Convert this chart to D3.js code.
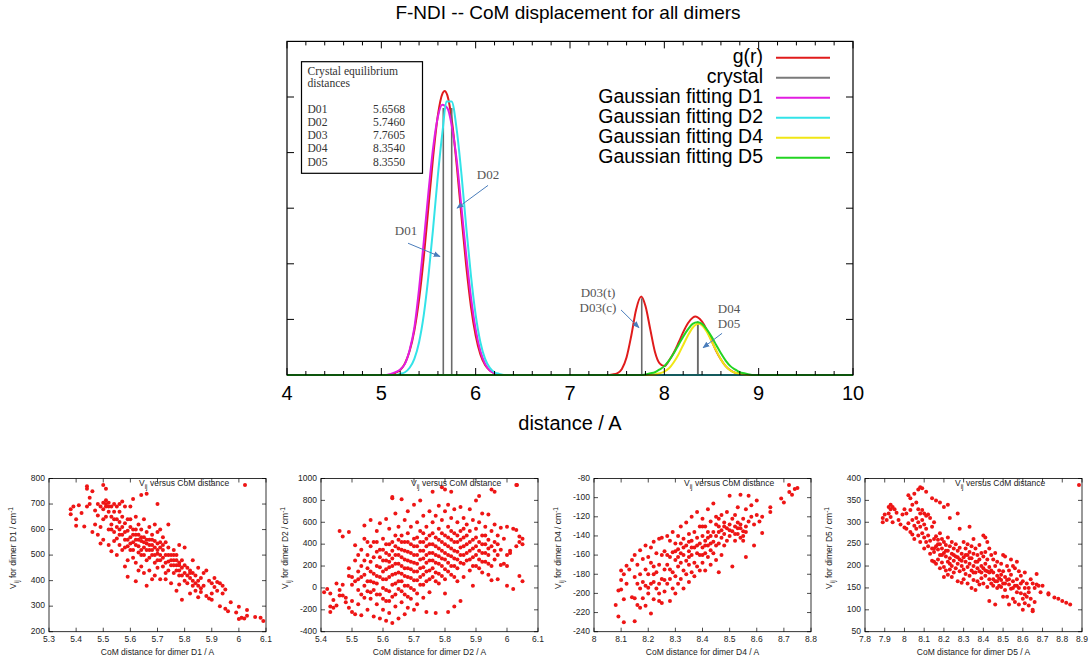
<!DOCTYPE html>
<html><head><meta charset="utf-8">
<script src="https://cdn.jsdelivr.net/npm/d3@7"></script>
<style>
body{margin:0;background:#fff}
svg{display:block}
text{font-family:"Liberation Sans",Arial,sans-serif}
</style>
</head><body>
<script>
// main plot: g(r) and gaussian fits
var grData = [[4,0],[5.10,0],[5.15,0.04],[5.20,0.09],[5.25,0.21],[5.30,0.43],[5.35,0.80],[5.40,1.36],[5.45,2.12],[5.50,3.03],[5.55,3.94],[5.60,4.68],[5.65,5.07],[5.67,5.11],[5.70,5.03],[5.75,4.55],[5.80,3.76],[5.85,2.84],[5.90,1.96],[5.95,1.23],[6.00,0.71],[6.05,0.37],[6.10,0.18],[6.15,0.08],[6.20,0.03],[6.25,0],
  [7.40,0],[7.45,0.01],[7.50,0.03],[7.55,0.11],[7.60,0.32],[7.65,0.71],[7.70,1.17],[7.755,1.41],[7.80,1.24],[7.85,0.83],[7.90,0.42],[7.95,0.21],[8.00,0.16],[8.05,0.26],[8.10,0.40],[8.15,0.58],[8.20,0.77],[8.25,0.93],[8.30,1.03],[8.33,1.05],[8.35,1.04],[8.40,0.96],[8.45,0.81],[8.50,0.62],[8.55,0.43],[8.60,0.28],[8.65,0.16],[8.70,0.085],[8.75,0.04],[8.80,0.018],[8.85,0.007],[8.90,0],[10,0]];
var fitD1 = [[4,0],[5.05,0],[5.10,0.02],[5.15,0.05],[5.20,0.10],[5.25,0.20],[5.30,0.45],[5.35,0.85],[5.40,1.55],[5.45,2.40],[5.50,3.30],[5.55,4.10],[5.60,4.65],[5.645,4.86],[5.70,4.80],[5.75,4.45],[5.80,3.85],[5.85,3.00],[5.90,2.15],[5.95,1.40],[6.00,0.82],[6.05,0.43],[6.10,0.20],[6.15,0.08],[6.20,0.03],[6.25,0],[10,0]];
var fitD2 = [[4,0],[5.15,0],[5.20,0.02],[5.25,0.05],[5.30,0.13],[5.35,0.29],[5.40,0.59],[5.45,1.08],[5.50,1.79],[5.55,2.66],[5.60,3.60],[5.65,4.40],[5.69,4.92],[5.745,4.92],[5.80,4.40],[5.85,3.60],[5.90,2.66],[5.95,1.79],[6.00,1.08],[6.05,0.59],[6.10,0.29],[6.15,0.13],[6.20,0.05],[6.25,0.02],[6.30,0],[10,0]];
var fitD4 = [[4,0],[7.85,0],[7.90,0.01],[7.95,0.03],[8.00,0.06],[8.05,0.12],[8.10,0.23],[8.15,0.37],[8.20,0.54],[8.25,0.71],[8.30,0.85],[8.36,0.92],[8.40,0.89],[8.45,0.78],[8.50,0.61],[8.55,0.44],[8.60,0.28],[8.65,0.16],[8.70,0.08],[8.75,0.04],[8.80,0.02],[8.85,0.01],[8.90,0],[10,0]];
var fitD5 = [[4,0],[7.75,0],[7.80,0.01],[7.85,0.03],[7.90,0.05],[7.95,0.10],[8.00,0.16],[8.05,0.26],[8.10,0.39],[8.15,0.54],[8.20,0.69],[8.25,0.82],[8.30,0.92],[8.35,0.95],[8.40,0.92],[8.45,0.82],[8.50,0.69],[8.55,0.54],[8.60,0.39],[8.65,0.26],[8.70,0.16],[8.75,0.10],[8.80,0.05],[8.85,0.03],[8.90,0.01],[8.95,0],[10,0]];

var dimerNames = ["D01","D02","D03","D04","D05"];
var crystalX = [5.6568, 5.7460, 7.7605, 8.3540, 8.3550];
var crystalH = [4.8, 4.8, 1.38, 0.96, 0.96];

var legendNames = ["g(r)","crystal","Gaussian fitting D1","Gaussian fitting D2","Gaussian fitting D4","Gaussian fitting D5"];
var legendColors = ["#e01b1b","#7a7a7a","#e11ee1","#33e3e8","#f0e615","#22d422"];
var mainXTicks = [4,5,6,7,8,9,10];

// scatter data: CoM distance vs Vij
var d1 = [[5.38,680],[5.38,660],[5.39,690],[5.40,640],[5.40,615],[5.41,695],[5.42,665],[5.43,612],[5.44,770],[5.44,760],[5.44,690],[5.45,725],[5.45,700],
[5.46,750],[5.46,590],[5.47,675],[5.47,620],[5.48,700],[5.48,655],[5.48,580],[5.49,690],[5.49,610],[5.49,545],[5.50,775],[5.50,705],[5.50,640],[5.50,560],
[5.51,760],[5.51,715],[5.51,700],[5.51,690],[5.52,705],[5.52,670],[5.52,600],[5.52,540],[5.53,690],[5.53,650],[5.53,620],[5.53,515],[5.54,700],[5.54,640],[5.54,590],[5.54,555],[5.55,690],[5.55,610],[5.55,565],[5.55,500],
[5.56,670],[5.56,630],[5.56,600],[5.56,540],[5.57,710],[5.57,650],[5.57,580],[5.57,520],[5.58,690],[5.58,625],[5.58,560],[5.58,455],[5.59,640],[5.59,595],[5.59,535],[5.59,480],[5.59,415],[5.60,690],[5.60,610],[5.60,570],[5.60,520],
[5.61,720],[5.61,600],[5.61,550],[5.61,490],[5.62,650],[5.62,580],[5.62,540],[5.62,470],[5.62,398],[5.63,620],[5.63,560],[5.63,510],[5.63,440],[5.64,735],[5.64,600],[5.64,555],[5.64,500],[5.64,455],[5.65,640],[5.65,570],[5.65,530],[5.65,430],
[5.66,740],[5.66,590],[5.66,545],[5.66,480],[5.66,380],[5.67,610],[5.67,560],[5.67,520],[5.67,440],[5.68,580],[5.68,540],[5.68,500],[5.68,405],[5.69,620],[5.69,555],[5.69,470],[5.69,420],[5.70,700],[5.70,590],[5.70,545],[5.70,505],[5.70,450],
[5.71,600],[5.71,530],[5.71,480],[5.71,405],[5.72,570],[5.72,520],[5.72,455],[5.73,550],[5.73,500],[5.73,430],[5.73,405],[5.74,620],[5.74,530],[5.74,475],[5.74,440],[5.75,500],[5.75,460],[5.75,390],
[5.76,520],[5.76,480],[5.76,430],[5.77,500],[5.77,460],[5.77,360],[5.78,540],[5.78,470],[5.78,440],[5.78,385],[5.79,480],[5.79,420],[5.79,325],[5.80,530],[5.80,460],[5.80,400],
[5.81,450],[5.81,390],[5.82,440],[5.82,410],[5.82,350],[5.83,480],[5.83,430],[5.83,380],[5.84,420],[5.84,360],[5.85,450],[5.85,400],[5.85,335],
[5.86,410],[5.86,355],[5.87,430],[5.87,380],[5.88,440],[5.88,340],[5.89,400],[5.89,330],[5.90,390],[5.90,350],[5.90,325],
[5.91,410],[5.91,375],[5.92,395],[5.92,360],[5.93,390],[5.93,300],[5.94,380],[5.94,350],[5.95,365],[5.95,290],[5.96,280],
[5.97,315],[5.99,275],[6.00,298],[6.00,250],[6.01,255],[6.02,252],[6.03,262],[6.03,285],[6.06,258],[6.08,255],[6.09,242]];
var d1More = [[5.50,680],[5.51,650],[5.52,690],[5.53,600],[5.54,670],[5.55,640],[5.56,580],[5.56,700],[5.57,610],[5.58,590],[5.58,530],[5.59,560],[5.60,640],[5.60,545],[5.61,580],[5.61,520],[5.62,600],[5.62,560],[5.63,580],[5.63,535],[5.64,520],[5.64,570],[5.65,550],[5.65,500],[5.66,560],[5.66,520],[5.67,540],[5.67,490],[5.68,560],[5.68,520],[5.69,530],[5.69,500],[5.70,520],[5.70,480],[5.71,550],[5.71,500],[5.72,540],[5.72,490],[5.73,470],[5.74,500],[5.75,480],[5.76,460],[5.76,500],[5.77,480],[5.77,440],[5.78,460],[5.78,420],[5.79,450],[5.80,430],[5.81,420],[5.82,430],[5.83,400],[5.84,390],[5.85,380],[5.86,370]];

var d2 = [[5.41,-40],[5.42,-10],[5.43,-50],[5.43,-170],[5.43,-220],[5.44,-180],[5.44,-110],[5.45,40],[5.45,-160],[5.46,520],[5.46,-20],[5.46,-70],
[5.47,470],[5.47,30],[5.47,-70],[5.48,-90],[5.48,-130],[5.49,510],[5.49,180],[5.49,110],[5.49,-180],[5.50,100],[5.50,30],[5.50,-220],[5.50,-120],
[5.51,390],[5.51,250],[5.51,60],[5.51,-240],[5.52,150],[5.52,80],[5.52,-20],[5.52,-150],[5.53,350],[5.53,200],[5.53,-60],[5.53,-250],[5.54,570],[5.54,450],[5.54,120],[5.54,20],[5.54,-90],[5.55,300],[5.55,180],[5.55,-30],[5.55,-200],
[5.56,620],[5.56,380],[5.56,240],[5.56,60],[5.56,-100],[5.57,420],[5.57,130],[5.57,-20],[5.57,-260],[5.58,520],[5.58,330],[5.58,200],[5.58,40],[5.58,-150],[5.59,590],[5.59,280],[5.59,100],[5.59,-60],[5.59,-280],[5.60,450],[5.60,350],[5.60,150],[5.60,0],[5.60,-200],
[5.61,630],[5.61,400],[5.61,250],[5.61,80],[5.61,-120],[5.61,-300],[5.62,540],[5.62,300],[5.62,190],[5.62,-30],[5.62,-230],[5.63,820],[5.63,830],[5.63,420],[5.63,270],[5.63,120],[5.63,-80],[5.63,-320],[5.64,680],[5.64,380],[5.64,220],[5.64,40],[5.64,-170],[5.65,560],[5.65,440],[5.65,300],[5.65,140],[5.65,-10],[5.65,-280],
[5.66,810],[5.66,480],[5.66,350],[5.66,200],[5.66,60],[5.66,-130],[5.67,620],[5.67,420],[5.67,260],[5.67,110],[5.67,-60],[5.67,-240],[5.68,700],[5.68,500],[5.68,330],[5.68,180],[5.68,20],[5.68,-180],[5.69,560],[5.69,400],[5.69,240],[5.69,90],[5.69,-100],[5.70,760],[5.70,450],[5.70,300],[5.70,150],[5.70,-20],[5.70,-200],
[5.71,600],[5.71,380],[5.71,220],[5.71,70],[5.71,-150],[5.72,800],[5.72,520],[5.72,340],[5.72,180],[5.72,30],[5.73,660],[5.73,420],[5.73,270],[5.73,120],[5.73,-90],[5.74,560],[5.74,380],[5.74,230],[5.74,60],[5.74,-220],[5.75,700],[5.75,480],[5.75,320],[5.75,160],[5.75,-40],
[5.76,880],[5.76,600],[5.76,400],[5.76,250],[5.76,100],[5.77,660],[5.77,460],[5.77,300],[5.77,140],[5.77,-230],[5.78,750],[5.78,540],[5.78,360],[5.78,220],[5.78,40],[5.79,920],[5.79,620],[5.79,420],[5.79,270],[5.79,110],[5.80,900],[5.80,700],[5.80,480],[5.80,320],[5.80,170],[5.80,-50],
[5.81,760],[5.81,560],[5.81,380],[5.81,230],[5.81,-220],[5.82,880],[5.82,640],[5.82,440],[5.82,290],[5.82,120],[5.83,720],[5.83,500],[5.83,340],[5.83,200],[5.83,-170],[5.84,600],[5.84,420],[5.84,260],[5.84,60],[5.85,740],[5.85,520],[5.85,370],[5.85,230],[5.85,-120],
[5.86,640],[5.86,460],[5.86,300],[5.86,100],[5.87,580],[5.87,400],[5.87,250],[5.88,720],[5.88,520],[5.88,340],[5.88,160],[5.89,620],[5.89,440],[5.89,280],[5.89,20],[5.90,800],[5.90,540],[5.90,380],[5.90,200],
[5.91,840],[5.91,600],[5.91,420],[5.91,260],[5.92,680],[5.92,480],[5.92,320],[5.92,140],[5.93,560],[5.93,400],[5.93,240],[5.94,670],[5.94,440],[5.94,300],[5.94,120],[5.95,900],[5.95,520],[5.95,380],[5.95,200],[5.95,70],
[5.96,880],[5.96,580],[5.96,420],[5.96,260],[5.97,480],[5.97,300],[5.97,80],[5.98,550],[5.98,350],[5.98,210],[5.99,450],[5.99,220],[6.00,560],[6.00,300],[6.00,200],[6.00,20],
[6.01,340],[6.01,320],[6.02,-10],[6.02,540],[6.03,940],[6.03,530],[6.03,380],[6.04,470],[6.04,420],[6.04,110],[6.05,450],[6.05,400],[6.05,60]];
var d2More = [[5.52,300],[5.53,100],[5.54,250],[5.55,60],[5.55,420],[5.56,150],[5.56,-40],[5.57,280],[5.57,50],[5.58,110],[5.58,-60],[5.58,420],[5.59,190],[5.59,350],[5.60,80],[5.60,250],[5.60,-100],[5.61,170],[5.61,-20],[5.61,320],[5.62,100],[5.62,240],[5.62,400],[5.62,-120],[5.63,30],[5.63,200],[5.63,340],[5.64,130],[5.64,300],[5.64,-60],[5.64,480],[5.65,220],[5.65,60],[5.65,360],[5.66,130],[5.66,280],[5.66,-30],[5.66,420],[5.67,180],[5.67,340],[5.67,20],[5.68,250],[5.68,100],[5.68,420],[5.68,-80],[5.69,170],[5.69,320],[5.69,0],[5.70,230],[5.70,380],[5.70,70],[5.71,300],[5.71,150],[5.71,460],[5.71,-50],[5.72,260],[5.72,100],[5.72,420],[5.73,340],[5.73,190],[5.73,30],[5.73,500],[5.74,300],[5.74,150],[5.74,450],[5.75,250],[5.75,400],[5.75,80],[5.76,320],[5.76,180],[5.76,500],[5.77,380],[5.77,230],[5.77,60],[5.78,290],[5.78,440],[5.78,130],[5.79,340],[5.79,200],[5.79,500],[5.80,260],[5.80,400],[5.80,80],[5.81,300],[5.81,460],[5.81,150],[5.82,360],[5.82,200],[5.82,520],[5.83,270],[5.83,420],[5.83,100],[5.84,330],[5.84,480],[5.84,180],[5.85,300],[5.85,440],[5.86,380],[5.86,220],[5.86,540],[5.87,320],[5.87,480],[5.88,260],[5.88,420],[5.89,360],[5.89,200],[5.90,300],[5.90,460],[5.91,340],[5.91,180],[5.92,400],[5.92,240],[5.93,320],[5.93,480],[5.94,360],[5.94,220],[5.96,340],[5.97,400]];

var d4 = [[8.08,-212],[8.09,-224],[8.09,-197],[8.10,-196],[8.10,-186],[8.10,-176],[8.11,-230],[8.11,-206],[8.11,-180],[8.12,-171],[8.12,-190],[8.13,-175],[8.14,-204],[8.14,-165],[8.15,-229],[8.15,-205],[8.15,-183],[8.15,-160],
[8.16,-212],[8.16,-190],[8.16,-170],[8.17,-215],[8.17,-195],[8.17,-180],[8.17,-155],[8.18,-205],[8.18,-188],[8.18,-164],[8.19,-213],[8.19,-192],[8.19,-175],[8.19,-150],[8.20,-194],[8.20,-180],[8.20,-162],
[8.21,-221],[8.21,-190],[8.21,-168],[8.21,-152],[8.22,-206],[8.22,-188],[8.22,-172],[8.22,-146],[8.23,-195],[8.23,-178],[8.23,-158],[8.24,-208],[8.24,-190],[8.24,-170],[8.24,-143],[8.25,-210],[8.25,-185],[8.25,-160],[8.25,-142],
[8.26,-198],[8.26,-175],[8.26,-156],[8.27,-190],[8.27,-170],[8.27,-140],[8.28,-208],[8.28,-185],[8.28,-162],[8.28,-145],[8.29,-195],[8.29,-178],[8.29,-157],[8.29,-136],[8.30,-200],[8.30,-182],[8.30,-165],[8.30,-148],
[8.31,-190],[8.31,-172],[8.31,-154],[8.31,-140],[8.32,-185],[8.32,-168],[8.32,-158],[8.32,-130],[8.33,-195],[8.33,-176],[8.33,-160],[8.33,-143],[8.34,-180],[8.34,-166],[8.34,-150],[8.34,-126],[8.35,-188],[8.35,-170],[8.35,-156],[8.35,-138],
[8.36,-178],[8.36,-160],[8.36,-145],[8.36,-120],[8.37,-182],[8.37,-168],[8.37,-152],[8.37,-136],[8.38,-172],[8.38,-158],[8.38,-142],[8.38,-115],[8.39,-176],[8.39,-160],[8.39,-148],[8.39,-130],[8.40,-168],[8.40,-152],[8.40,-140],[8.40,-122],
[8.41,-176],[8.41,-158],[8.41,-145],[8.41,-130],[8.42,-162],[8.42,-150],[8.42,-136],[8.42,-112],[8.43,-170],[8.43,-155],[8.43,-140],[8.43,-125],[8.44,-158],[8.44,-146],[8.44,-106],[8.45,-165],[8.45,-150],[8.45,-128],[8.45,-120],
[8.46,-178],[8.46,-148],[8.46,-136],[8.46,-122],[8.47,-160],[8.47,-142],[8.47,-118],[8.48,-150],[8.48,-138],[8.48,-126],[8.49,-145],[8.49,-132],[8.49,-115],[8.50,-140],[8.50,-128],[8.50,-98],
[8.51,-172],[8.51,-135],[8.51,-122],[8.52,-145],[8.52,-130],[8.52,-118],[8.53,-138],[8.53,-126],[8.53,-110],[8.54,-142],[8.54,-132],[8.54,-97],[8.55,-145],[8.55,-135],[8.55,-122],
[8.56,-162],[8.56,-130],[8.56,-112],[8.57,-125],[8.57,-98],[8.58,-120],[8.58,-108],[8.59,-150],[8.59,-128],[8.60,-118],[8.60,-103],[8.61,-125],[8.62,-137],[8.62,-120],
[8.65,-110],[8.65,-115],[8.69,-101],[8.70,-105],[8.72,-94],[8.73,-97],[8.74,-91],[8.75,-90]];
var d4More = [[8.20,-200],[8.22,-180],[8.24,-200],[8.26,-186],[8.27,-160],[8.28,-175],[8.30,-156],[8.31,-162],[8.32,-148],[8.33,-152],[8.35,-162],[8.35,-146],[8.36,-152],[8.38,-150],[8.40,-160],[8.40,-130],[8.41,-150],[8.42,-142],[8.43,-148],[8.44,-136],[8.45,-140],[8.46,-130],[8.47,-134],[8.48,-130],[8.50,-134],[8.52,-138],[8.53,-132],[8.54,-128],[8.55,-140],[8.56,-136]];

var d5 = [[7.89,310],[7.89,300],[7.90,318],[7.91,305],[7.92,335],[7.92,320],[7.93,340],[7.93,330],[7.93,312],[7.94,335],[7.94,300],[7.95,330],[7.96,322],[7.97,305],
[7.98,295],[7.99,318],[8.00,330],[8.00,288],[8.01,320],[8.01,285],[8.02,362],[8.02,298],[8.03,355],[8.03,328],[8.03,278],[8.04,340],[8.04,305],[8.04,272],[8.05,365],[8.05,292],[8.05,262],
[8.06,345],[8.06,310],[8.06,285],[8.07,375],[8.07,330],[8.07,300],[8.07,270],[8.08,380],[8.08,320],[8.08,290],[8.08,255],[8.09,378],[8.09,328],[8.09,305],[8.09,275],[8.10,320],[8.10,295],[8.10,265],[8.10,240],
[8.11,370],[8.11,315],[8.11,285],[8.11,255],[8.12,318],[8.12,270],[8.12,245],[8.13,310],[8.13,258],[8.13,228],[8.14,355],[8.14,290],[8.14,240],[8.14,212],[8.15,300],[8.15,262],[8.15,232],[8.15,210],
[8.16,350],[8.16,268],[8.16,245],[8.16,205],[8.17,260],[8.17,238],[8.17,215],[8.18,345],[8.18,275],[8.18,250],[8.18,225],[8.18,195],[8.19,262],[8.19,240],[8.19,208],[8.20,335],[8.20,255],[8.20,230],[8.20,198],[8.20,175],
[8.21,248],[8.21,222],[8.21,190],[8.22,340],[8.22,265],[8.22,235],[8.22,210],[8.22,180],[8.23,310],[8.23,245],[8.23,218],[8.23,192],[8.24,255],[8.24,228],[8.24,200],[8.24,175],[8.25,240],[8.25,212],[8.25,185],
[8.26,250],[8.26,222],[8.26,195],[8.27,320],[8.27,235],[8.27,205],[8.27,165],[8.28,285],[8.28,242],[8.28,215],[8.28,188],[8.29,228],[8.29,200],[8.29,162],[8.30,255],[8.30,220],[8.30,192],[8.30,170],
[8.31,240],[8.31,210],[8.31,182],[8.32,250],[8.32,225],[8.32,198],[8.32,160],[8.33,290],[8.33,232],[8.33,205],[8.33,178],[8.34,245],[8.34,218],[8.34,190],[8.34,150],[8.35,262],[8.35,228],[8.35,200],[8.35,168],
[8.36,240],[8.36,210],[8.36,185],[8.36,145],[8.37,225],[8.37,195],[8.37,165],[8.38,248],[8.38,215],[8.38,188],[8.38,158],[8.39,230],[8.39,200],[8.39,172],[8.40,270],[8.40,222],[8.40,195],[8.40,160],
[8.41,265],[8.41,232],[8.41,205],[8.41,178],[8.42,255],[8.42,215],[8.42,188],[8.42,152],[8.43,240],[8.43,198],[8.43,170],[8.43,120],[8.44,225],[8.44,190],[8.44,160],[8.45,215],[8.45,185],[8.45,155],
[8.46,230],[8.46,200],[8.46,165],[8.46,112],[8.47,210],[8.47,178],[8.47,150],[8.48,190],[8.48,172],[8.48,155],[8.49,205],[8.49,180],[8.49,152],[8.50,225],[8.50,188],[8.50,160],[8.50,130],
[8.51,222],[8.51,175],[8.51,145],[8.52,200],[8.52,168],[8.52,130],[8.53,190],[8.53,158],[8.53,112],[8.54,215],[8.54,180],[8.54,148],[8.55,200],[8.55,165],[8.55,125],
[8.56,195],[8.56,155],[8.56,118],[8.57,210],[8.57,170],[8.57,140],[8.58,188],[8.58,150],[8.58,112],[8.59,178],[8.59,138],[8.60,165],[8.60,125],[8.60,100],
[8.61,185],[8.61,150],[8.61,115],[8.62,160],[8.62,130],[8.63,140],[8.63,110],[8.64,170],[8.64,125],[8.65,160],[8.65,100],[8.65,97],[8.66,150],[8.66,118],[8.67,182],[8.67,158],[8.68,155],[8.69,140],[8.70,155],
[8.73,138],[8.73,135],[8.76,128],[8.78,125],[8.80,120],[8.82,116],[8.84,112]];
var d5More = [[8.15,240],[8.17,250],[8.19,225],[8.21,235],[8.23,205],[8.25,225],[8.27,220],[8.29,212],[8.31,225],[8.33,218],[8.35,185],[8.37,210],[8.39,185],[8.41,190],[8.43,185],[8.45,170],[8.47,165],[8.49,168],[8.51,160],[8.53,170],[8.55,150],[8.57,155],[8.59,160],[8.61,135],[8.63,150]];

var p1XTicks = [5.3,5.4,5.5,5.6,5.7,5.8,5.9,6,6.1], p1YTicks = [200,300,400,500,600,700,800];
var p2XTicks = [5.4,5.5,5.6,5.7,5.8,5.9,6,6.1], p2YTicks = [-400,-200,0,200,400,600,800,1000];
var p3XTicks = [8,8.1,8.2,8.3,8.4,8.5,8.6,8.7,8.8], p3YTicks = [-240,-220,-200,-180,-160,-140,-120,-100,-80];
var p4XTicks = [7.8,7.9,8,8.1,8.2,8.3,8.4,8.5,8.6,8.7,8.8,8.9], p4YTicks = [50,100,150,200,250,300,350,400];
var panelDimers = ["D1","D2","D4","D5"];

var svg = d3.select("body").append("svg").attr("width", 1088).attr("height", 663);

// ---------- main plot ----------
var x = d3.scaleLinear().domain([4, 10]).range([287, 853]);
var y = d3.scaleLinear().domain([0, 6]).range([375, 41.4]);

svg.append("text").attr("x", 568).attr("y", 14).attr("text-anchor", "middle")
    .attr("dominant-baseline", "middle").style("font-size", "19px").text("F-NDI -- CoM displacement for all dimers");

var line = d3.line().x(function(d){ return x(d[0]); }).y(function(d){ return y(d[1]); }).curve(d3.curveMonotoneX);

svg.append("path").datum(grData).attr("d", line).attr("fill", "none").attr("stroke", legendColors[0]).attr("stroke-width", 2);

svg.selectAll(".crys").data(crystalX).enter().append("line").attr("class", "crys")
    .attr("x1", function(d){ return x(d); }).attr("x2", function(d){ return x(d); })
    .attr("y1", y(0)).attr("y2", function(d, i){ return y(crystalH[i]); })
    .attr("stroke", "#6a6a6a").attr("stroke-width", 1.6);

[fitD1, fitD2, fitD4, fitD5].forEach(function(f, i){
  svg.append("path").datum(f).attr("d", line).attr("fill", "none")
      .attr("stroke", legendColors[i + 2]).attr("stroke-width", 2);
});

// frame + ticks
svg.append("rect").attr("x", x(4)).attr("y", y(6)).attr("width", x(10) - x(4)).attr("height", y(0) - y(6))
    .attr("fill", "none").attr("stroke", "#000").attr("stroke-width", 1.2);
var tk = svg.append("g").attr("stroke", "#000").attr("stroke-width", 1);
d3.range(0, 31).forEach(function(i){
  var v = 4 + i * 0.2, len = (i % 5 == 0) ? 7 : 4;
  tk.append("line").attr("x1", x(v)).attr("x2", x(v)).attr("y1", y(0)).attr("y2", y(0) - len);
  tk.append("line").attr("x1", x(v)).attr("x2", x(v)).attr("y1", y(6)).attr("y2", y(6) + len);
});
[1,2,3,4,5].forEach(function(v){
  tk.append("line").attr("x1", x(4)).attr("x2", x(4) + 7).attr("y1", y(v)).attr("y2", y(v));
  tk.append("line").attr("x1", x(10)).attr("x2", x(10) - 7).attr("y1", y(v)).attr("y2", y(v));
});
svg.selectAll(".xl").data(mainXTicks).enter().append("text").attr("class", "xl")
    .attr("x", function(d){ return x(d); }).attr("y", 395).attr("text-anchor", "middle")
    .attr("dominant-baseline", "middle").style("font-size", "20px").text(function(d){ return d; });
svg.append("text").attr("x", 570).attr("y", 425).attr("text-anchor", "middle")
    .attr("dominant-baseline", "middle").style("font-size", "20px").text("distance / A");

// legend
legendNames.forEach(function(n, i){
  var ly = 57.7 + i * 20;
  svg.append("text").attr("x", 763).attr("y", ly).attr("text-anchor", "end")
      .attr("dominant-baseline", "middle").style("font-size", "19.5px").text(n);
  svg.append("line").attr("x1", 776).attr("x2", 830).attr("y1", ly).attr("y2", ly)
      .attr("stroke", legendColors[i]).attr("stroke-width", 2);
});

// inset table of crystal distances
var serif = '"Liberation Serif","DejaVu Serif",serif';
svg.append("rect").attr("x", 301.5).attr("y", 61.7).attr("width", 121).attr("height", 111.6)
    .attr("fill", "#fff").attr("stroke", "#000").attr("stroke-width", 1.2);
svg.append("text").attr("x", 307.5).attr("y", 72).attr("dominant-baseline", "middle")
    .style("font-family", serif).style("font-size", "11.6px").attr("fill", "#333").text("Crystal equilibrium");
svg.append("text").attr("x", 307.5).attr("y", 84.5).attr("dominant-baseline", "middle")
    .style("font-family", serif).style("font-size", "11.6px").attr("fill", "#333").text("distances");
dimerNames.forEach(function(n, i){
  var ty = 110.5 + i * 13.1;
  svg.append("text").attr("x", 307.5).attr("y", ty).attr("dominant-baseline", "middle")
      .style("font-family", serif).style("font-size", "11.6px").attr("fill", "#333").text(n);
  svg.append("text").attr("x", 405).attr("y", ty).attr("text-anchor", "end").attr("dominant-baseline", "middle")
      .style("font-family", serif).style("font-size", "11.6px").attr("fill", "#333").text(crystalX[i].toFixed(4));
});

// annotations with arrows
svg.append("defs").append("marker").attr("id", "ah").attr("viewBox", "0 0 10 10").attr("refX", 9).attr("refY", 5)
    .attr("markerWidth", 7).attr("markerHeight", 7).attr("orient", "auto")
    .append("path").attr("d", "M0,1 L10,5 L0,9 z").attr("fill", "#4a7dbb");
var notes = [
  {t: ["D01"], at: [5.262, 2.57], from: [5.283, 2.37], to: [5.622, 2.13]},
  {t: ["D02"], at: [6.131, 3.58], from: [6.131, 3.41], to: [5.802, 3.0]},
  {t: ["D03(t)", "D03(c)"], at: [7.297, 1.46], from: [7.541, 1.17], to: [7.732, 0.85]},
  {t: ["D04", "D05"], at: [8.686, 1.17], from: [8.612, 0.75], to: [8.41, 0.49]}
];
notes.forEach(function(nt){
  nt.t.forEach(function(s, k){
    svg.append("text").attr("x", x(nt.at[0])).attr("y", y(nt.at[1]) + k * 15.2).attr("text-anchor", "middle")
        .attr("dominant-baseline", "middle").style("font-family", serif).style("font-size", "13px")
        .attr("fill", "#555").text(s);
  });
  svg.append("line").attr("x1", x(nt.from[0])).attr("y1", y(nt.from[1])).attr("x2", x(nt.to[0])).attr("y2", y(nt.to[1]))
      .attr("stroke", "#4a7dbb").attr("stroke-width", 1).attr("marker-end", "url(#ah)");
});

// ---------- scatter panels ----------
var panels = [
  {pts: d1.concat(d1More), xt: p1XTicks, yt: p1YTicks, left: 49, dot: 17},
  {pts: d2.concat(d2More), xt: p2XTicks, yt: p2YTicks, left: 321, dot: 17},
  {pts: d4.concat(d4More), xt: p3XTicks, yt: p3YTicks, left: 594, dot: 16},
  {pts: d5.concat(d5More), xt: p4XTicks, yt: p4YTicks, left: 865, dot: 35}
];
var pW = 217, pTop = 478.5, pBot = 631.7;

panels.forEach(function(p, pi){
  var g = svg.append("g");
  var sx = d3.scaleLinear().domain(d3.extent(p.xt)).range([p.left, p.left + pW]);
  var sy = d3.scaleLinear().domain(d3.extent(p.yt)).range([pBot, pTop]);

  g.selectAll("circle").data(p.pts).enter().append("circle")
      .attr("cx", function(d){ return sx(d[0]); }).attr("cy", function(d){ return sy(d[1]); })
      .attr("r", 2).attr("fill", "#ee1515");

  g.append("rect").attr("x", p.left).attr("y", pTop).attr("width", pW).attr("height", pBot - pTop)
      .attr("fill", "none").attr("stroke", "#000").attr("stroke-width", 0.8);
  p.xt.forEach(function(v){
    g.append("line").attr("x1", sx(v)).attr("x2", sx(v)).attr("y1", pBot).attr("y2", pBot - 4).attr("stroke", "#000").attr("stroke-width", 0.7);
    g.append("line").attr("x1", sx(v)).attr("x2", sx(v)).attr("y1", pTop).attr("y2", pTop + 4).attr("stroke", "#000").attr("stroke-width", 0.7);
    g.append("text").attr("x", sx(v)).attr("y", pBot + 8).attr("text-anchor", "middle").attr("dominant-baseline", "middle")
        .style("font-size", "8.5px").attr("fill", "#222").text(String(v));
  });
  p.yt.forEach(function(v){
    g.append("line").attr("x1", p.left).attr("x2", p.left + 4).attr("y1", sy(v)).attr("y2", sy(v)).attr("stroke", "#000").attr("stroke-width", 0.7);
    g.append("line").attr("x1", p.left + pW).attr("x2", p.left + pW - 4).attr("y1", sy(v)).attr("y2", sy(v)).attr("stroke", "#000").attr("stroke-width", 0.7);
    g.append("text").attr("x", p.left - 4).attr("y", sy(v)).attr("text-anchor", "end").attr("dominant-baseline", "middle")
        .style("font-size", "8.5px").attr("fill", "#222").text(String(v));
  });

  // key
  var key = g.append("text").attr("x", p.left + 90).attr("y", 484).attr("dominant-baseline", "middle")
      .style("font-size", "8.5px").attr("fill", "#222");
  key.append("tspan").text("V");
  key.append("tspan").attr("dy", 2.5).style("font-size", "6.5px").text("ij");
  key.append("tspan").attr("dy", -2.5).text(" versus CoM distance");
  g.append("circle").attr("cx", p.left + 179 + p.dot).attr("cy", 485).attr("r", 2).attr("fill", "#ee1515");

  // axis titles
  g.append("text").attr("x", p.left + pW / 2).attr("y", 653).attr("text-anchor", "middle").attr("dominant-baseline", "middle")
      .style("font-size", "8.5px").attr("fill", "#222").text("CoM distance for dimer " + panelDimers[pi] + " / A");
  var yt = g.append("text").attr("transform", "translate(" + (p.left - 35) + ",548) rotate(-90)")
      .attr("text-anchor", "middle").attr("dominant-baseline", "middle").style("font-size", "8.5px").attr("fill", "#222");
  yt.append("tspan").text("V");
  yt.append("tspan").attr("dy", 2.5).style("font-size", "6.5px").text("ij");
  yt.append("tspan").attr("dy", -2.5).text(" for dimer " + panelDimers[pi] + " / cm");
  yt.append("tspan").attr("dy", -3).style("font-size", "6.5px").text("-1");
});
</script>
</body></html>
